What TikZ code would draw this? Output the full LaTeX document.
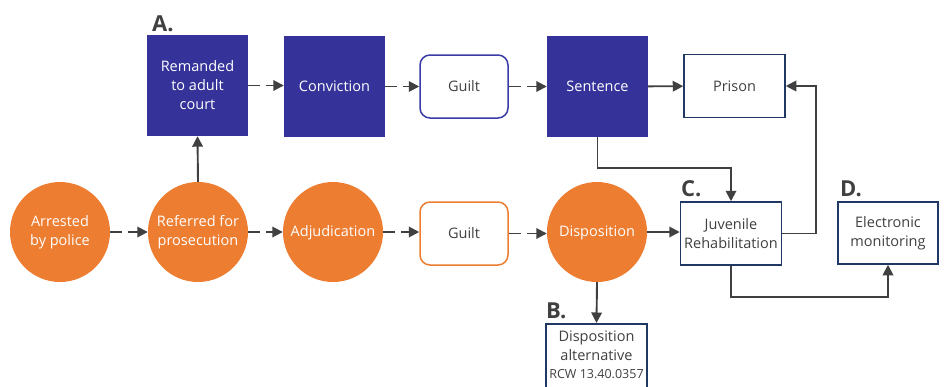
\documentclass[tikz,border=0pt]{standalone}
\usepackage{fontspec}
\setmainfont{Open Sans}
\usetikzlibrary{arrows.meta,calc}
\definecolor{navyfill}{RGB}{53,51,154}
\definecolor{orangefill}{RGB}{237,125,49}
\definecolor{linegray}{RGB}{64,64,64}
\definecolor{guiltblue}{RGB}{59,59,168}
\definecolor{boxnavy}{RGB}{31,56,100}
\definecolor{textgray}{RGB}{64,64,64}
\begin{document}
\begin{tikzpicture}[x=1pt,y=-1pt,
  basefont/.style={font=\fontsize{14.5}{19}\selectfont},
  darkbox/.style={basefont,rectangle,fill=navyfill,minimum width=101pt,minimum height=101pt,inner sep=0pt,text=white,align=center},
  circ/.style={basefont,circle,fill=orangefill,minimum size=100pt,inner sep=0pt,text=white,align=center},
  rbox/.style={basefont,rectangle,rounded corners=10pt,line width=1.5pt,fill=white,minimum width=88pt,minimum height=63pt,inner sep=0pt,text=textgray,align=center},
  wbox/.style={basefont,rectangle,draw=boxnavy,line width=1.5pt,fill=white,minimum width=101pt,minimum height=63pt,inner sep=0pt,text=textgray,align=center},
  tag/.style={font=\fontsize{22}{24}\bfseries\selectfont,text=textgray,anchor=west,inner sep=0pt},
  conn/.style={draw=linegray,line width=1.9pt,-{Triangle[length=10.5pt,width=10.5pt]}},
  dasharrow/.style={conn,dash pattern=on 12pt off 6pt},
  solidarrow/.style={conn}
]
\useasboundingbox (0,0) rectangle (945,386);
\clip (0,0) rectangle (945,386);
% top row
\node[darkbox] (rem) at (197.5,85.5) {Remanded\\to adult\\court};
\node[darkbox] (conv) at (334.5,86.5) {Conviction};
\node[rbox,draw=guiltblue] (guiltA) at (464,86.5) {Guilt};
\node[darkbox] (sent) at (597.5,86.5) {Sentence};
\node[wbox] (prison) at (734.5,86) {Prison};
% bottom row
\node[circ] (arr) at (60,232) {Arrested\\by police};
\node[circ] (ref) at (198,232) {Referred for\\prosecution};
\node[circ,text depth=2pt] (adj) at (333,232) {Adjudication};
\node[rbox,draw=orangefill] (guiltB) at (464,233.5) {Guilt};
\node[circ,text depth=2pt] (disp) at (597,232) {Disposition};
\node[wbox] (juv) at (731,233.5) {Juvenile\\Rehabilitation};
\node[wbox,minimum width=100pt,minimum height=62pt] (elec) at (888,233) {Electronic\\monitoring};
\node[wbox,anchor=north,inner ysep=7pt] (alt) at (596.5,323)
  {\parbox[t][70pt][t]{101pt}{\centering\fontsize{14.5}{19}\selectfont Disposition\\alternative\\[-1pt]{\fontsize{12.5}{15}\selectfont RCW 13.40.0357}}};
% tags
\node[tag] (tA) at (152,24) {A.};
\node[tag] (tB) at (546,311) {B.};
\node[tag] (tC) at (681,189) {C.};
\node[tag] (tD) at (840,189) {D.};
% connectors
\draw[dasharrow] (rem.east) -- (rem.east -| conv.west);
\draw[dasharrow] (conv) -- (guiltA);
\draw[dasharrow] (guiltA.east) -- (guiltA.east -| sent.west);
\draw[solidarrow] (sent) -- (prison);
\draw[solidarrow] (sent.south) -- ++(0,31) -| (juv.north);
\draw[solidarrow] (juv.east) -- ++(34,0) |- (prison.east);
\draw[solidarrow] (juv.south) -- ++(0,31) -| (elec.south);
\draw[solidarrow] (ref.north) -- (rem.south);
\draw[dasharrow] (arr) -- (ref);
\draw[dasharrow] (ref) -- (adj);
\draw[dasharrow] (adj.east) -- (adj.east -| guiltB.west);
\draw[dasharrow] (guiltB.east) -- (guiltB.east -| disp.west);
\draw[solidarrow] (disp.east) -- (disp.east -| juv.west);
\draw[solidarrow] (disp.south) -- (alt.north);
\end{tikzpicture}
\end{document}
